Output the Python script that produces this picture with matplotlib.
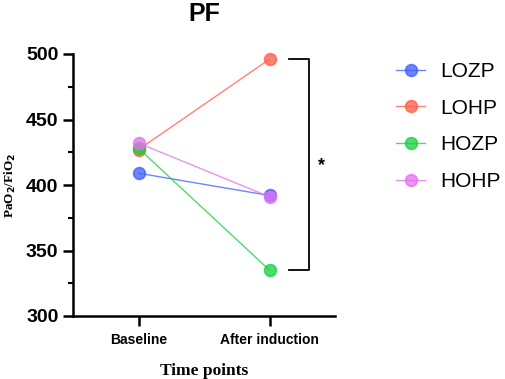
import matplotlib
matplotlib.use("Agg")
import matplotlib.pyplot as plt
from matplotlib.ticker import MultipleLocator

timepoints = ["Baseline", "After induction"]
groups = ["LOZP", "LOHP", "HOZP", "HOHP"]
lozp = [409, 392]
lohp = [427, 496]
hozp = [428, 335]
hohp = [432, 391]
colors = ["#3d5cff", "#ff5a47", "#12d13c", "#e070f0"]
series = [lozp, lohp, hozp, hohp]

fig = plt.figure(figsize=(5.05, 3.79), dpi=100)
ax = fig.add_axes([73/505, 1-316/379, (335-73)/505, (316-54)/379])

x = list(range(len(timepoints)))
handles = []
for name, vals, c in zip(groups, series, colors):
    ln, = ax.plot(x, vals, color=c, lw=1.0, marker="o", markersize=8.5,
                  markerfacecolor=c, markeredgecolor=c, markeredgewidth=1.2,
                  alpha=0.75, clip_on=False, label=name)
    handles.append(ln)

ax.set_xlim(-0.5, 1.5)
ax.set_ylim(300, 500)
ax.yaxis.set_major_locator(MultipleLocator(50))
ax.yaxis.set_minor_locator(MultipleLocator(25))
ax.set_xticks(x)
ax.set_xticklabels(timepoints, fontsize=10, fontweight="bold", family="Liberation Sans")
for lab in ax.get_yticklabels():
    lab.set_fontsize(14)
    lab.set_fontweight("bold")
    lab.set_family("Liberation Sans")
ax.tick_params(axis="y", which="major", length=7, width=1.8, direction="out", pad=3.5)
ax.tick_params(axis="x", which="major", length=7, width=1.8, direction="out", pad=5)
ax.tick_params(axis="y", which="minor", length=3.8, width=1.5)
for s in ["top", "right"]:
    ax.spines[s].set_visible(False)
for s in ["left", "bottom"]:
    ax.spines[s].set_linewidth(1.8)

ax.set_title("PF", fontsize=18, fontweight="bold", family="Liberation Sans", pad=24)
ax.set_xlabel("Time points", fontsize=12.5, fontweight="bold", family="Liberation Serif", labelpad=12)
ax.set_ylabel(r"PaO$_\mathbf{2}$/FiO$_\mathbf{2}$", fontsize=9.5, fontweight="bold",
              family="Liberation Serif", labelpad=6)

# significance bracket
bx0, bx1 = 1.15, 1.30
ax.plot([bx0, bx1, bx1, bx0], [lohp[1], lohp[1], hozp[1], hozp[1]], color="black",
        lw=1.3, clip_on=False)
ax.text(1.395, (lohp[1] + hozp[1]) / 2 - 1, "*", fontsize=13, fontweight="bold",
        ha="center", va="center", family="Liberation Sans")

leg = fig.legend(handles=handles, loc="upper left", bbox_to_anchor=(396/505, 1-62/379),
                 frameon=False, prop={"family": "Liberation Sans", "size": 15},
                 borderpad=0, borderaxespad=0,
                 handlelength=1.4, handletextpad=0.7, labelspacing=0.85)

fig.savefig("out.png", dpi=100)
